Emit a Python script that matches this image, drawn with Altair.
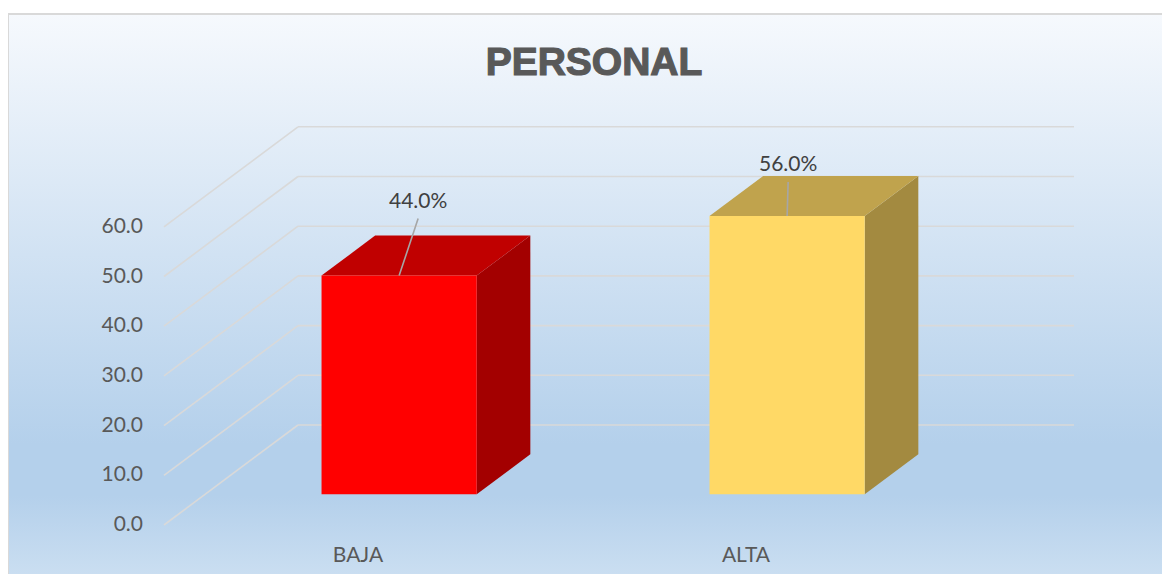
import altair as alt
import pandas as pd

# ---- data ----
CATEGORIES = ["BAJA", "ALTA"]
VALUES = [44.0, 56.0]
TICKS = [0, 10, 20, 30, 40, 50, 60]
TITLE = "PERSONAL"

# ---- styles ----
FRONT_COLORS = ["#ff0000", "#ffd966"]
TOP_COLORS = ["#c00000", "#c0a34d"]
SIDE_COLORS = ["#a30000", "#a38a40"]
GRID_COLOR = "#d9d9d9"
TEXT_COLOR = "#595959"
LABEL_COLOR = "#404040"
FONT = "Lato"

# ---- layout (pixels) ----
W, H = 1154, 560
X0 = 156            # front-left floor corner, view px
Y0 = 511            # front zero line, view px
CAT_PX = 388        # width of one category on the floor
VAL_PX = 4.97       # pixels per value unit
DEPTH_DX_PX, DEPTH_DY_PX = 134, 100
BAR_FRONT, BAR_DEPTH, BAR_WIDTH = 0.307, 0.4, 0.4
LABEL_SHIFT_PX = [(19, 74), (1, 51)]   # data label position relative to bar front-top centre
LEADER_GAP_PX = 17

DXU = DEPTH_DX_PX / CAT_PX
DYU = DEPTH_DY_PX / VAL_PX
xdom = [-X0 / CAT_PX, (W - X0) / CAT_PX]
ydom = [-(H - Y0) / VAL_PX, Y0 / VAL_PX]
xs = alt.Scale(domain=xdom, nice=False, zero=False)
ys = alt.Scale(domain=ydom, nice=False, zero=False)
ncat = len(CATEGORIES)

# ---- tables built from the arrays ----
grid_rows = []
for t in TICKS:
    grid_rows.append({"x": 0.0, "x2": DXU, "y": t, "y2": t + DYU})
    grid_rows.append({"x": DXU, "x2": DXU + ncat, "y": t + DYU, "y2": t + DYU})
grid = pd.DataFrame(grid_rows)
ticks = pd.DataFrame({"v": TICKS, "lab": [f"{t:.1f}" for t in TICKS], "x": 0.0})

front, side, top, lab = [], [], [], []
bdx, bdy = BAR_DEPTH * DXU, BAR_DEPTH * DYU
for i, (c, v) in enumerate(zip(CATEGORIES, VALUES)):
    fx = i + 0.5 + BAR_FRONT * DXU
    fl, fr = fx - BAR_WIDTH / 2, fx + BAR_WIDTH / 2
    y0 = BAR_FRONT * DYU
    yt = v + y0
    front.append({"cat": c, "x": fl, "x2": fr, "y": y0, "y2": yt})
    side.append({"cat": c, "x": fr, "lo": y0, "hi": yt})
    side.append({"cat": c, "x": fr + bdx, "lo": y0 + bdy, "hi": yt + bdy})
    top.append({"cat": c, "y": yt, "l": fl, "r": fr})
    top.append({"cat": c, "y": yt + bdy, "l": fl + bdx, "r": fr + bdx})
    ox, oy = LABEL_SHIFT_PX[i]
    lx, ly = fx + ox / CAT_PX, yt + oy / VAL_PX
    lab.append({"cat": c, "text": f"{v:.1f}%", "lx": lx, "ly": ly,
                "ax": fx, "ay": yt, "ex": lx, "ey": ly - LEADER_GAP_PX / VAL_PX})
front, side, top, lab = map(pd.DataFrame, (front, side, top, lab))
cats = pd.DataFrame({"cat": CATEGORIES, "x": [i + 0.5 for i in range(ncat)], "y": 0.0})

gradient = {
    "gradient": "linear", "x1": 0, "y1": 0, "x2": 0, "y2": 1,
    "stops": [
        {"offset": 0.0, "color": "#f6f9fd"},
        {"offset": 0.768, "color": "#b4d0eb"},
        {"offset": 0.86, "color": "#b4d0eb"},
        {"offset": 1.0, "color": "#cadef1"},
    ],
}

bg = alt.Chart(pd.DataFrame({"k": [0]})).mark_rect(color=gradient).encode(
    x=alt.value(0), x2=alt.value(W), y=alt.value(0), y2=alt.value(H))
border_top = alt.Chart(pd.DataFrame({"k": [0]})).mark_rule(color=GRID_COLOR, strokeWidth=2).encode(
    x=alt.value(0), x2=alt.value(W), y=alt.value(0))
border_left = alt.Chart(pd.DataFrame({"k": [0]})).mark_rule(color=GRID_COLOR, strokeWidth=2).encode(
    x=alt.value(0), y=alt.value(0), y2=alt.value(H))

gridlines = alt.Chart(grid).mark_rule(color=GRID_COLOR, strokeWidth=1.6).encode(
    x=alt.X("x:Q", scale=xs, axis=None), x2="x2:Q",
    y=alt.Y("y:Q", scale=ys, axis=None), y2="y2:Q")

ylabels = alt.Chart(ticks).mark_text(align="right", baseline="middle", dx=-21,
                                     font=FONT, fontSize=21, color=TEXT_COLOR).encode(
    x=alt.X("x:Q", scale=xs, axis=None), y=alt.Y("v:Q", scale=ys, axis=None), text="lab:N")

side_m = alt.Chart(side).mark_area(orient="vertical").encode(
    x=alt.X("x:Q", scale=xs, axis=None),
    y=alt.Y("lo:Q", scale=ys, axis=None, stack=None), y2="hi:Q",
    detail="cat:N",
    color=alt.Color("cat:N", scale=alt.Scale(domain=CATEGORIES, range=SIDE_COLORS), legend=None))

top_m = alt.Chart(top).mark_area(orient="horizontal").encode(
    y=alt.Y("y:Q", scale=ys, axis=None),
    x=alt.X("l:Q", scale=xs, axis=None, stack=None), x2="r:Q",
    detail="cat:N",
    color=alt.Color("cat:N", scale=alt.Scale(domain=CATEGORIES, range=TOP_COLORS), legend=None))

front_m = alt.Chart(front).mark_rect().encode(
    x=alt.X("x:Q", scale=xs, axis=None), x2="x2:Q",
    y=alt.Y("y:Q", scale=ys, axis=None), y2="y2:Q",
    color=alt.Color("cat:N", scale=alt.Scale(domain=CATEGORIES, range=FRONT_COLORS), legend=None))

leaders = alt.Chart(lab).mark_rule(color="#a6a6a6", strokeWidth=1.6).encode(
    x=alt.X("ax:Q", scale=xs, axis=None), x2="ex:Q",
    y=alt.Y("ay:Q", scale=ys, axis=None), y2="ey:Q")

dlabels = alt.Chart(lab).mark_text(align="center", baseline="middle", font=FONT,
                                   fontSize=21, color=LABEL_COLOR).encode(
    x=alt.X("lx:Q", scale=xs, axis=None), y=alt.Y("ly:Q", scale=ys, axis=None), text="text:N")

clabels = alt.Chart(cats).mark_text(align="center", baseline="middle", dy=31, font=FONT,
                                    fontSize=21, color=TEXT_COLOR).encode(
    x=alt.X("x:Q", scale=xs, axis=None), y=alt.Y("y:Q", scale=ys, axis=None), text="cat:N")

title = alt.Chart(pd.DataFrame({"t": [TITLE]})).mark_text(
    align="center", baseline="middle", font="Liberation Sans", fontSize=39,
    fontWeight="bold", color=TEXT_COLOR, stroke=TEXT_COLOR, strokeWidth=1.2).encode(
    x=alt.value(586), y=alt.value(49), text="t:N")

chart = alt.layer(
    bg, border_top, border_left, gridlines, ylabels,
    side_m, top_m, front_m, leaders, dlabels, clabels, title
).resolve_scale(color="independent").properties(
    width=W, height=H,
    autosize=alt.AutoSizeParams(type="none"),
    padding={"left": 0, "top": 6, "right": 0, "bottom": 0},
).configure_view(stroke=None)

chart.save("out.html", embed_options={"renderer": "svg", "actions": False})
